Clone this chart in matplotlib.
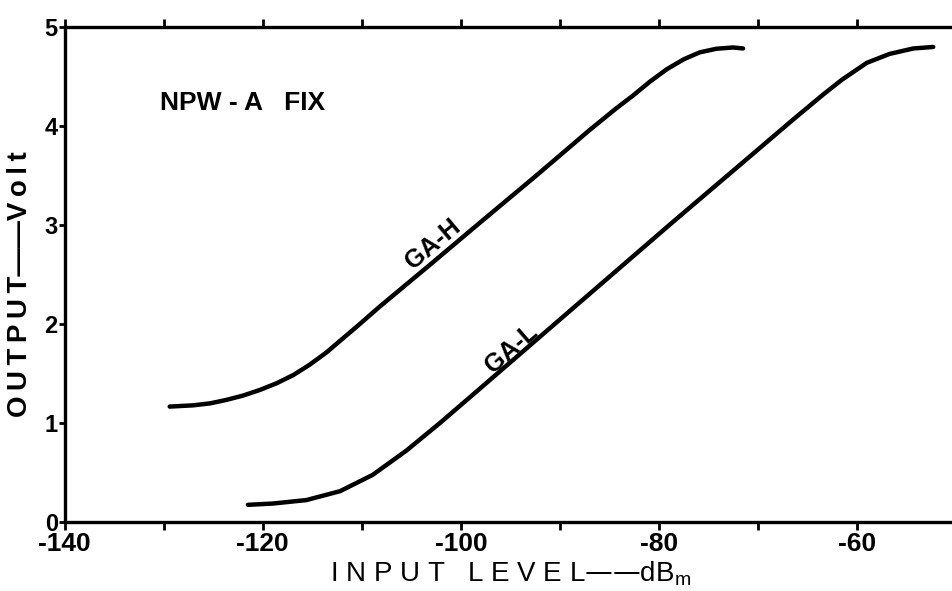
import numpy as np
import matplotlib.pyplot as plt

# curve readings (input level dBm, output volt)
ga_h_x = [-129.4, -127.0, -125.3, -123.7, -122.0, -120.3, -118.6, -116.9, -115.3,
          -113.6, -111.9, -110.2, -108.2, -103.1, -98.0, -92.5, -87.0, -84.3,
          -82.6, -80.9, -79.2, -77.5, -75.9, -74.2, -72.5, -71.5]
ga_h_y = [1.165, 1.178, 1.198, 1.232, 1.276, 1.333, 1.401, 1.485, 1.586,
          1.710, 1.855, 2.000, 2.175, 2.60, 3.03, 3.49, 3.96, 4.18,
          4.31, 4.45, 4.575, 4.675, 4.745, 4.782, 4.795, 4.785]

ga_l_x = [-121.5, -119.0, -115.6, -112.2, -108.9, -105.5, -102.1, -98.8, -95.4,
          -92.0, -85.3, -78.6, -71.8, -66.4, -63.4, -61.5, -59.0, -56.7,
          -54.3, -52.3]
ga_l_y = [0.172, 0.185, 0.22, 0.31, 0.475, 0.72, 1.00, 1.284, 1.578,
          1.872, 2.451, 3.030, 3.609, 4.07, 4.32, 4.47, 4.64, 4.73,
          4.785, 4.80]

x_major = [-140, -120, -100, -80, -60]
x_minor = [-130, -110, -90, -70]
y_ticks = [0, 1, 2, 3, 4, 5]

plt.rcParams['font.family'] = ['Liberation Sans', 'DejaVu Sans']

fig = plt.figure(figsize=(9.52, 5.91), dpi=100)
ax = fig.add_axes([0.068, 0.117, 0.932, 0.837])

ax.plot(ga_h_x, ga_h_y, color='black', lw=3.2, solid_capstyle='round',
        solid_joinstyle='round')
ax.plot(ga_l_x, ga_l_y, color='black', lw=3.2, solid_capstyle='round',
        solid_joinstyle='round')

ax.set_xlim(-140, -50.4)
ax.set_ylim(0, 5)

ax.spines['right'].set_visible(False)
for s in ['left', 'top', 'bottom']:
    ax.spines[s].set_linewidth(2.4)

ax.set_xticks(x_major)
ax.set_xticks(x_minor, minor=True)
ax.set_yticks(y_ticks)
ax.set_xticklabels([str(v) for v in x_major], fontsize=19, fontweight='bold')
ax.set_yticklabels([str(v) for v in y_ticks], fontsize=17, fontweight='bold')
ax.tick_params(axis='x', which='both', direction='out', length=6, width=2,
               top=True, pad=1)
ax.tick_params(axis='y', direction='out', length=4, width=2, pad=1)

ax.text(-130.4, 4.23, 'NPW - A   FIX', fontsize=19, fontweight='bold',
        ha='left', va='center')
ax.text(-102.8, 2.81, 'GA-H', fontsize=18, fontweight='bold',
        ha='center', va='center', rotation=40)
ax.text(-94.9, 1.75, 'GA-L', fontsize=18, fontweight='bold',
        ha='center', va='center', rotation=41)

ax.set_xlabel('I N P U T   L E V E L——dB$_\\mathregular{m}$', fontsize=20)
ax.xaxis.set_label_coords(0.503, -0.075)
ax.set_ylabel('O\u2009U\u2009T\u2009P\u2009U\u2009T——V\u2009o\u2009l\u2009t',
              fontsize=20, fontweight='bold')
ax.yaxis.set_label_coords(-0.036, 0.48)

fig.savefig('out.png', dpi=100)
